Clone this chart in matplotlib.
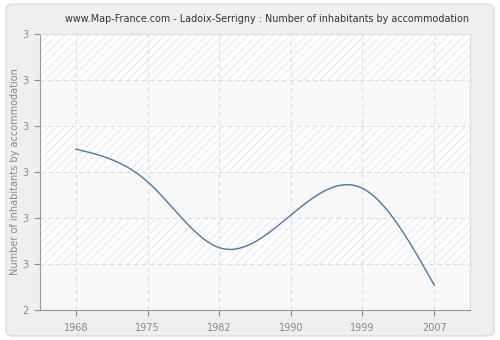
import numpy as np
import matplotlib
matplotlib.use("Agg")
import matplotlib.pyplot as plt
from matplotlib.patches import FancyBboxPatch

years = ["1968", "1975", "1982", "1990", "1999", "2007"]
values = [2.583, 2.465, 2.226, 2.344, 2.441, 2.091]
y_ticks = [2.0, 2.1667, 2.3333, 2.5, 2.6667, 2.8333, 3.0]
y_tick_labels = ["2", "3", "3", "3", "3", "3", "3"]

title = "www.Map-France.com - Ladoix-Serrigny : Number of inhabitants by accommodation"
ylabel = "Number of inhabitants by accommodation"


def natural_spline(x, y, n=300):
    # natural cubic spline through the points, for a smooth line
    x = np.asarray(x, float)
    y = np.asarray(y, float)
    k = len(x)
    h = np.diff(x)
    A = np.zeros((k, k))
    b = np.zeros(k)
    A[0, 0] = A[-1, -1] = 1
    for i in range(1, k - 1):
        A[i, i - 1] = h[i - 1]
        A[i, i] = 2 * (h[i - 1] + h[i])
        A[i, i + 1] = h[i]
        b[i] = 3 * ((y[i + 1] - y[i]) / h[i] - (y[i] - y[i - 1]) / h[i - 1])
    c = np.linalg.solve(A, b)
    xs = np.linspace(x[0], x[-1], n)
    idx = np.clip(np.searchsorted(x, xs) - 1, 0, k - 2)
    dx = xs - x[idx]
    bb = (y[idx + 1] - y[idx]) / h[idx] - h[idx] * (2 * c[idx] + c[idx + 1]) / 3
    dd = (c[idx + 1] - c[idx]) / (3 * h[idx])
    ys = y[idx] + bb * dx + c[idx] * dx ** 2 + dd * dx ** 3
    return xs, ys


plt.rcParams["hatch.linewidth"] = 0.6
plt.rcParams["font.family"] = "DejaVu Sans"

fig = plt.figure(figsize=(5, 3.4), dpi=100, facecolor="white")
fig.patches.append(FancyBboxPatch((0.012, 0.012), 0.976, 0.976,
                                  boxstyle="round,pad=0,rounding_size=0.015",
                                  transform=fig.transFigure, facecolor="#efefef",
                                  edgecolor="#dcdcdc", linewidth=1, zorder=-10))

ax = fig.add_axes([0.08, 0.088, 0.86, 0.812])
ax.set_facecolor("white")

x = np.arange(len(years))

# alternating hatched / plain bands
for i in range(len(y_ticks) - 1):
    lo, hi = y_ticks[i], y_ticks[i + 1]
    if i % 2 == 0:
        ax.axhspan(lo, hi, facecolor="#f8f8f8", edgecolor="none", zorder=0)
    else:
        ax.axhspan(lo, hi, facecolor="white", edgecolor="#e6e6e6",
                   hatch="////", linewidth=0, zorder=0)

xs, ys = natural_spline(x, values)
ax.plot(xs, ys, color="#4a77ad", linewidth=1, zorder=3)

ax.set_xlim(-0.5, len(years) - 0.5)
ax.set_ylim(2, 3)
ax.set_xticks(x)
ax.set_xticklabels(years)
ax.set_yticks(y_ticks)
ax.set_yticklabels(y_tick_labels)

ax.grid(True, color="#dedede", linestyle=(0, (4, 3)), linewidth=0.8, zorder=1)
ax.set_axisbelow(True)

for side in ["left", "bottom"]:
    ax.spines[side].set_color("#999999")
for side in ["top", "right"]:
    ax.spines[side].set_color("#dddddd")

ax.tick_params(colors="#888888", labelsize=7, length=4, width=0.8)
ax.tick_params(axis="x", pad=5)
ax.tick_params(axis="y", pad=4)
for lbl in ax.get_xticklabels() + ax.get_yticklabels():
    lbl.set_color("#888888")

ax.set_ylabel(ylabel, color="#888888", fontsize=7, labelpad=2)
fig.text(0.534, 0.945, title, ha="center", va="center", fontsize=6.9, color="#333333")

fig.savefig("out.png", dpi=100, facecolor=fig.get_facecolor())
